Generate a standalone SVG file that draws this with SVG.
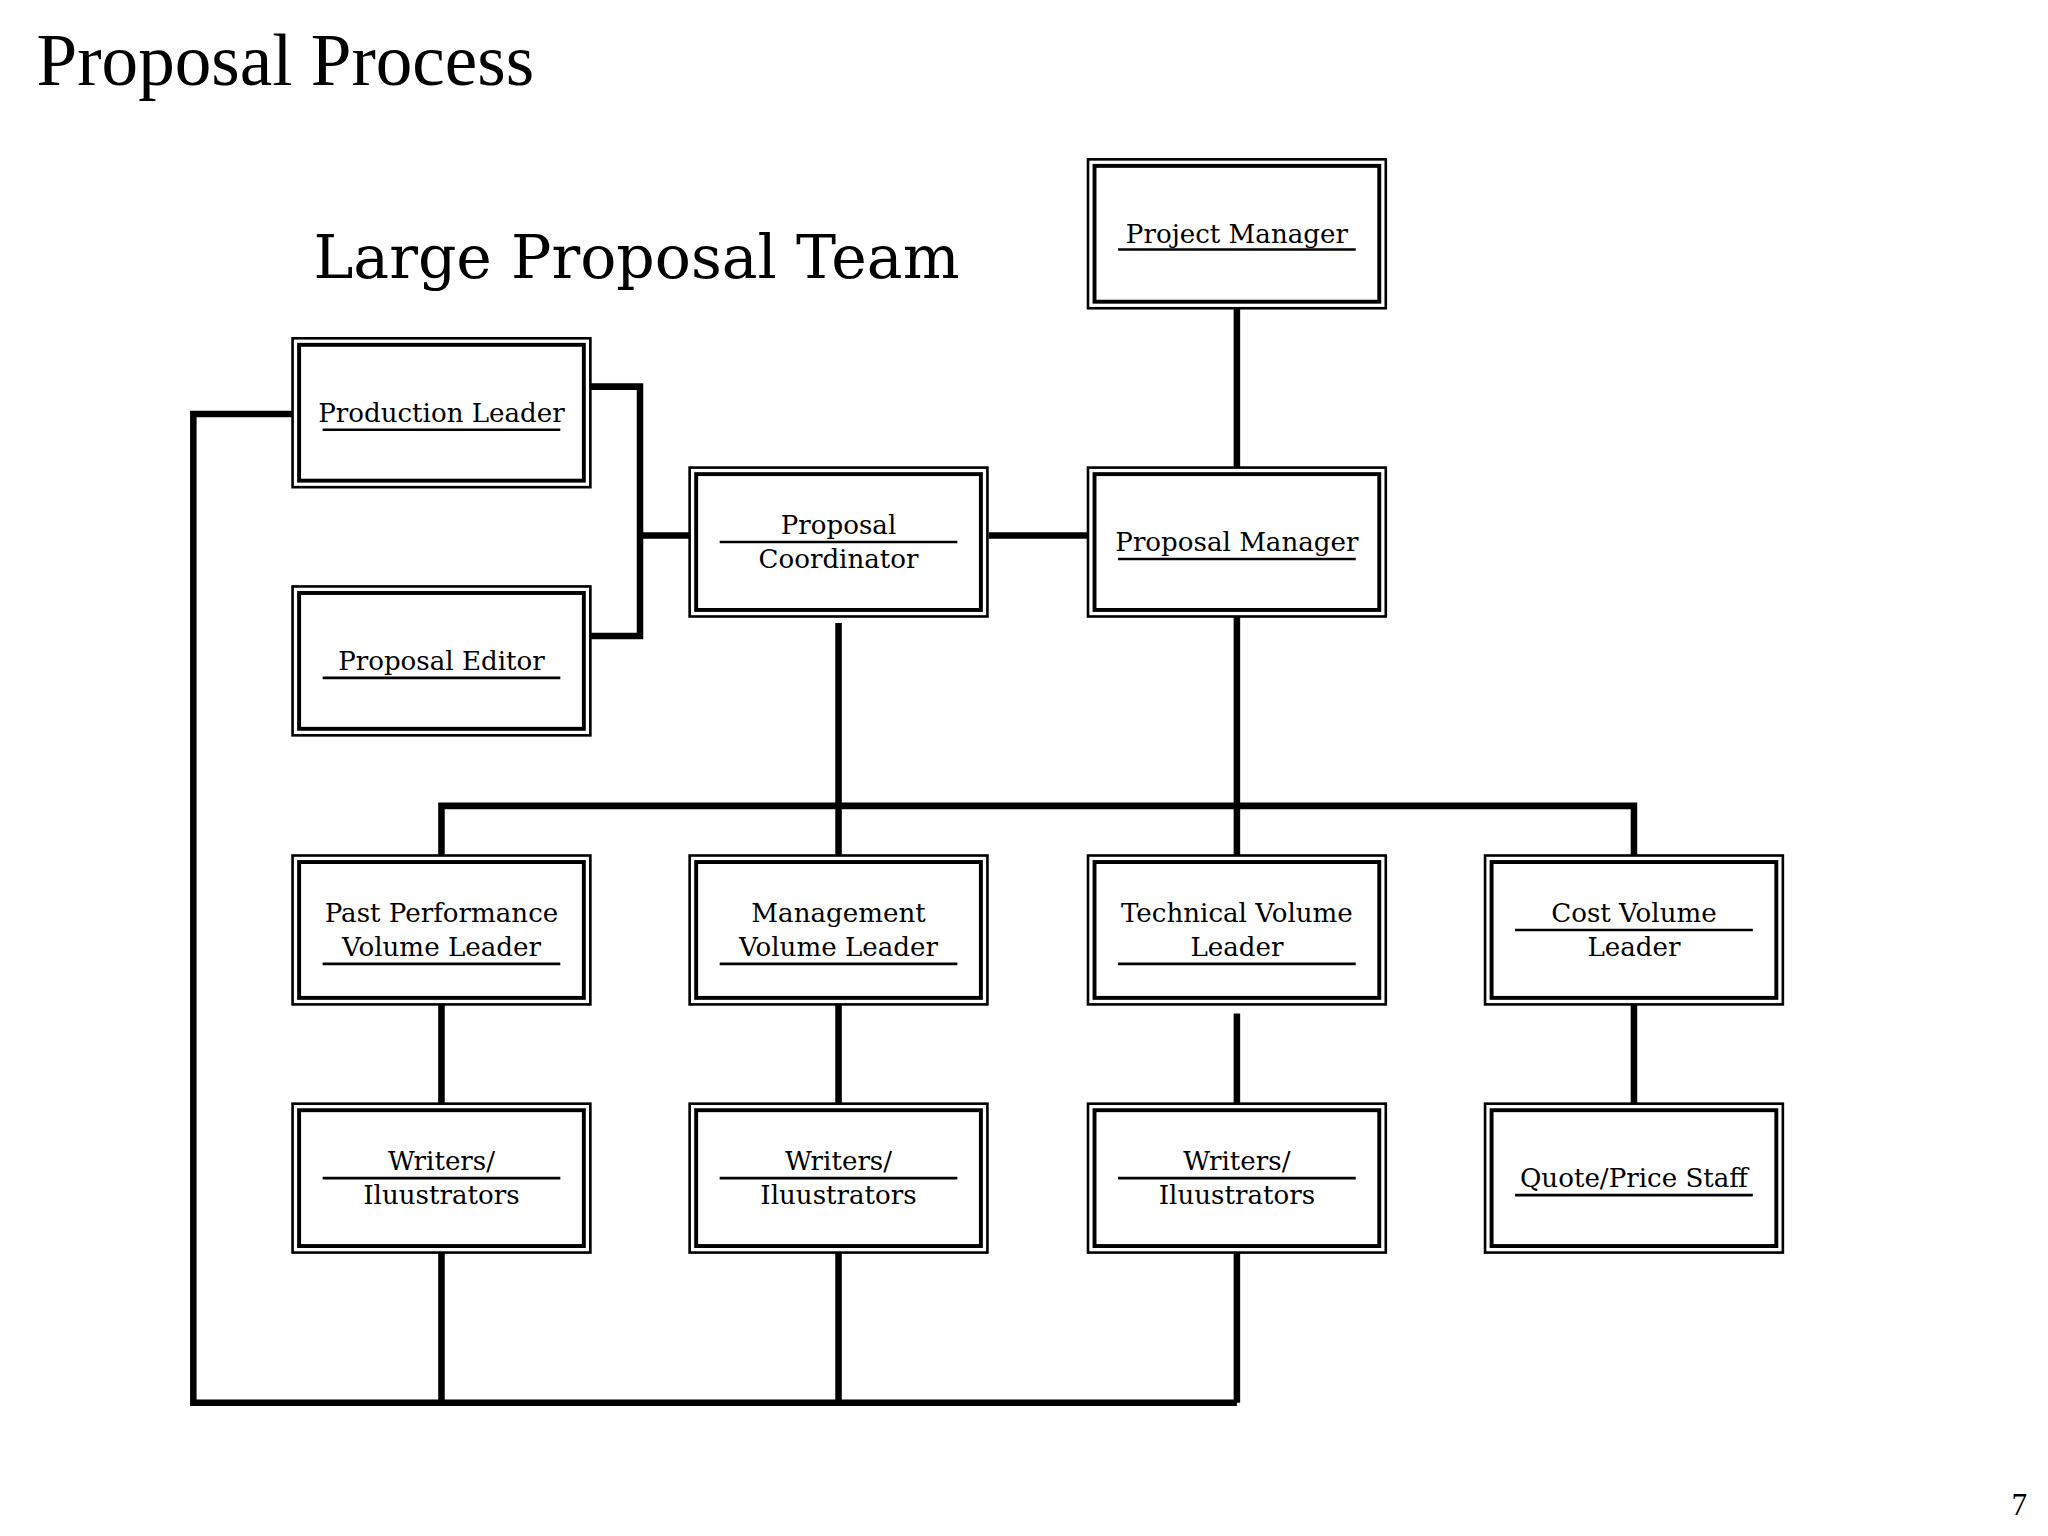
<svg xmlns="http://www.w3.org/2000/svg" width="2048" height="1536" viewBox="0 0 2048 1536">
<style>
.o{fill:#fff;stroke:#000;stroke-width:2}
.i{fill:none;stroke:#000;stroke-width:3}
.t{font-family:"DejaVu Serif",serif;font-size:20px;text-anchor:middle}
.u{stroke:#000;stroke-width:2}
.c{stroke:#000;stroke-width:5;fill:none}
</style>
<rect width="2048" height="1536" fill="#fff"/>
<g transform="scale(1.30612)">
<text x="28" y="65" font-family="Liberation Serif,serif" font-size="56">Proposal Process</text>
<text x="240" y="213" font-family="DejaVu Serif,serif" font-size="46">Large Proposal Team</text>
<text x="1540" y="1160" font-family="Liberation Serif,serif" font-size="24">7</text>
<g id="connectors">
<path class="c" d="M947 236V358M757 410H833M452 296H490V487H452M490 410H528M224 317H148V1074H947M642 477V655M947 472V655M338 655V617H1251V655M338 769V845M642 769V845M947 776V845M1251 769V845M338 959V1074M642 959V1074M947 959V1074"/>
</g>
<g id="pm"><rect class="o" x="833" y="122" width="228" height="114"/><rect class="i" x="838" y="127" width="218" height="104"/><text class="t" x="947" y="186">Project Manager</text><line class="u" x1="856" y1="191" x2="1038" y2="191"/></g>
<g id="prodl"><rect class="o" x="224" y="259" width="228" height="114"/><rect class="i" x="229" y="264" width="218" height="104"/><text class="t" x="338" y="323">Production Leader</text><line class="u" x1="247" y1="329" x2="429" y2="329"/></g>
<g id="coord"><rect class="o" x="528" y="358" width="228" height="114"/><rect class="i" x="533" y="363" width="218" height="104"/><text class="t" x="642" y="409">Proposal</text><text class="t" x="642" y="435">Coordinator</text><line class="u" x1="551" y1="415" x2="733" y2="415"/></g>
<g id="propm"><rect class="o" x="833" y="358" width="228" height="114"/><rect class="i" x="838" y="363" width="218" height="104"/><text class="t" x="947" y="422">Proposal Manager</text><line class="u" x1="856" y1="428" x2="1038" y2="428"/></g>
<g id="editor"><rect class="o" x="224" y="449" width="228" height="114"/><rect class="i" x="229" y="454" width="218" height="104"/><text class="t" x="338" y="513">Proposal Editor</text><line class="u" x1="247" y1="519" x2="429" y2="519"/></g>
<g id="past"><rect class="o" x="224" y="655" width="228" height="114"/><rect class="i" x="229" y="660" width="218" height="104"/><text class="t" x="338" y="706">Past Performance</text><text class="t" x="338" y="732">Volume Leader</text><line class="u" x1="247" y1="738" x2="429" y2="738"/></g>
<g id="mgmt"><rect class="o" x="528" y="655" width="228" height="114"/><rect class="i" x="533" y="660" width="218" height="104"/><text class="t" x="642" y="706">Management</text><text class="t" x="642" y="732">Volume Leader</text><line class="u" x1="551" y1="738" x2="733" y2="738"/></g>
<g id="tech"><rect class="o" x="833" y="655" width="228" height="114"/><rect class="i" x="838" y="660" width="218" height="104"/><text class="t" x="947" y="706">Technical Volume</text><text class="t" x="947" y="732">Leader</text><line class="u" x1="856" y1="738" x2="1038" y2="738"/></g>
<g id="cost"><rect class="o" x="1137" y="655" width="228" height="114"/><rect class="i" x="1142" y="660" width="218" height="104"/><text class="t" x="1251" y="706">Cost Volume</text><text class="t" x="1251" y="732">Leader</text><line class="u" x1="1160" y1="712" x2="1342" y2="712"/></g>
<g id="w1"><rect class="o" x="224" y="845" width="228" height="114"/><rect class="i" x="229" y="850" width="218" height="104"/><text class="t" x="338" y="896">Writers/</text><text class="t" x="338" y="922">Iluustrators</text><line class="u" x1="247" y1="902" x2="429" y2="902"/></g>
<g id="w2"><rect class="o" x="528" y="845" width="228" height="114"/><rect class="i" x="533" y="850" width="218" height="104"/><text class="t" x="642" y="896">Writers/</text><text class="t" x="642" y="922">Iluustrators</text><line class="u" x1="551" y1="902" x2="733" y2="902"/></g>
<g id="w3"><rect class="o" x="833" y="845" width="228" height="114"/><rect class="i" x="838" y="850" width="218" height="104"/><text class="t" x="947" y="896">Writers/</text><text class="t" x="947" y="922">Iluustrators</text><line class="u" x1="856" y1="902" x2="1038" y2="902"/></g>
<g id="quote"><rect class="o" x="1137" y="845" width="228" height="114"/><rect class="i" x="1142" y="850" width="218" height="104"/><text class="t" x="1251" y="909">Quote/Price Staff</text><line class="u" x1="1160" y1="915" x2="1342" y2="915"/></g>
</g>
</svg>
